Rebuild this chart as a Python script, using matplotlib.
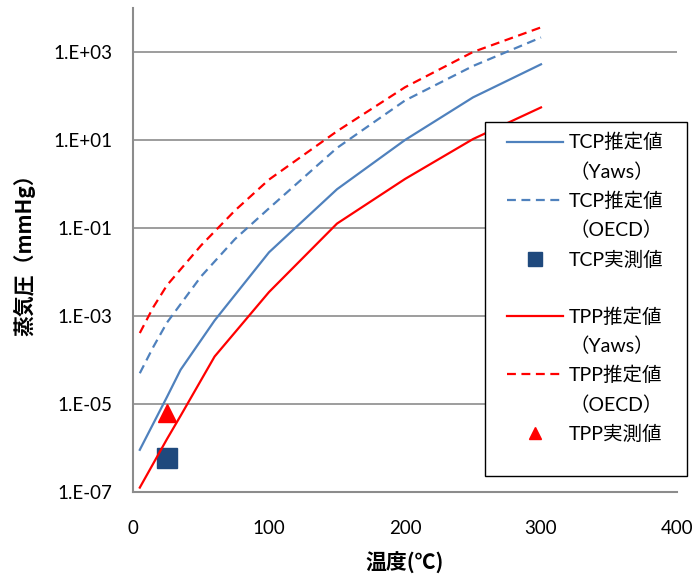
import matplotlib
matplotlib.use("Agg")
import matplotlib.pyplot as plt
from matplotlib.lines import Line2D
from matplotlib.patches import Rectangle
from matplotlib.ticker import NullLocator

plt.rcParams['font.family'] = ['Lato', 'Noto Sans CJK JP']

# 温度 (℃)
temp_yaws = [5, 25, 35, 60, 100, 150, 200, 250, 300]
temp_oecd = [5, 15, 25, 50, 75, 100, 150, 200, 250, 300]

# 蒸気圧 (mmHg)
tcp_yaws = [9.1e-7, 1.45e-5, 6.0e-5, 7.9e-4, 2.8e-2, 7.6e-1, 1.0e1, 9.3e1, 5.25e2]
tpp_yaws = [1.26e-7, 1.6e-6, 5.4e-6, 1.2e-4, 3.5e-3, 1.26e-1, 1.3e0, 1.05e1, 5.5e1]
tcp_oecd = [5.0e-5, 2.0e-4, 7.1e-4, 7.9e-3, 5.6e-2, 2.8e-1, 6.6e0, 7.9e1, 4.8e2, 2.14e3]
tpp_oecd = [4.1e-4, 1.6e-3, 5.0e-3, 4.0e-2, 2.5e-1, 1.26e0, 1.58e1, 1.58e2, 1.0e3, 3.63e3]

# 実測値
meas_temp = [25]
tcp_meas = [5.9e-7]
tpp_meas = [6.3e-6]

y_ticks = [1e-7, 1e-5, 1e-3, 1e-1, 1e1, 1e3]
y_tick_labels = ["1.E-07", "1.E-05", "1.E-03", "1.E-01", "1.E+01", "1.E+03"]
x_ticks = [0, 100, 200, 300, 400]

blue = "#4F81BD"
red = "#FF0000"
navy = "#1F497D"
grey = "#8C8C8C"

fig = plt.figure(figsize=(6.97, 5.78), dpi=100)
ax = fig.add_axes([133 / 697, 1 - 492 / 578, 544 / 697, 484 / 578])

l1, = ax.plot(temp_yaws, tcp_yaws, color=blue, lw=1.6)
l2, = ax.plot(temp_oecd, tcp_oecd, color=blue, lw=1.6, dashes=(4, 2.5))
m1, = ax.plot(meas_temp, tcp_meas, 's', color=navy, ms=15, ls='none')
l3, = ax.plot(temp_yaws, tpp_yaws, color=red, lw=1.6)
l4, = ax.plot(temp_oecd, tpp_oecd, color=red, lw=1.6, dashes=(4, 2.5))
m2, = ax.plot(meas_temp, tpp_meas, '^', color=red, ms=13, ls='none')

ax.set_yscale('log')
ax.set_ylim(1e-7, 1e4)
ax.set_xlim(0, 400)
ax.set_yticks(y_ticks)
ax.set_yticklabels(y_tick_labels)
ax.yaxis.set_minor_locator(NullLocator())
ax.set_xticks(x_ticks)
ax.tick_params(axis='y', length=0, pad=15, labelsize=13.5)
ax.tick_params(axis='x', length=0, pad=20, labelsize=13.5)
ax.grid(axis='y', color=grey, lw=1.2)
ax.set_axisbelow(True)

for side in ['top', 'right']:
    ax.spines[side].set_visible(False)
for side in ['left', 'bottom']:
    ax.spines[side].set_color(grey)
    ax.spines[side].set_linewidth(1.5)

ax.set_xlabel("温度(℃)", fontsize=15, fontweight='bold', family='Noto Sans CJK JP')
ax.xaxis.set_label_coords(0.5, -0.123)
ax.set_ylabel("蒸気圧（mmHg）", fontsize=15, fontweight='bold', family='Noto Sans CJK JP')
ax.yaxis.set_label_coords(-0.199, 0.5)
ax.yaxis.label.set_va('center')

# 凡例
blank = Line2D([], [], ls='none')
handles = [l1, blank, l2, blank, m1, blank, l3, blank, l4, blank, m2]
labels = ["TCP推定値", "（Yaws）", "TCP推定値", "（OECD）", "TCP実測値", " ",
          "TPP推定値", "（Yaws）", "TPP推定値", "（OECD）", "TPP実測値"]

fig.add_artist(Rectangle((485 / 697, 1 - 476 / 578), 202 / 697, 354 / 578,
                         transform=fig.transFigure, facecolor='white',
                         edgecolor='black', lw=1.0, zorder=5))
leg = fig.legend(handles, labels, loc='upper left', bbox_to_anchor=(507 / 697, 1 - 133 / 578),
                 frameon=False, fontsize=14, borderpad=0, borderaxespad=0,
                 handlelength=2.9, handletextpad=0.3, labelspacing=0.56,
                 markerscale=0.65, numpoints=1)
leg.set_zorder(6)

fig.savefig("out.png", dpi=100)
